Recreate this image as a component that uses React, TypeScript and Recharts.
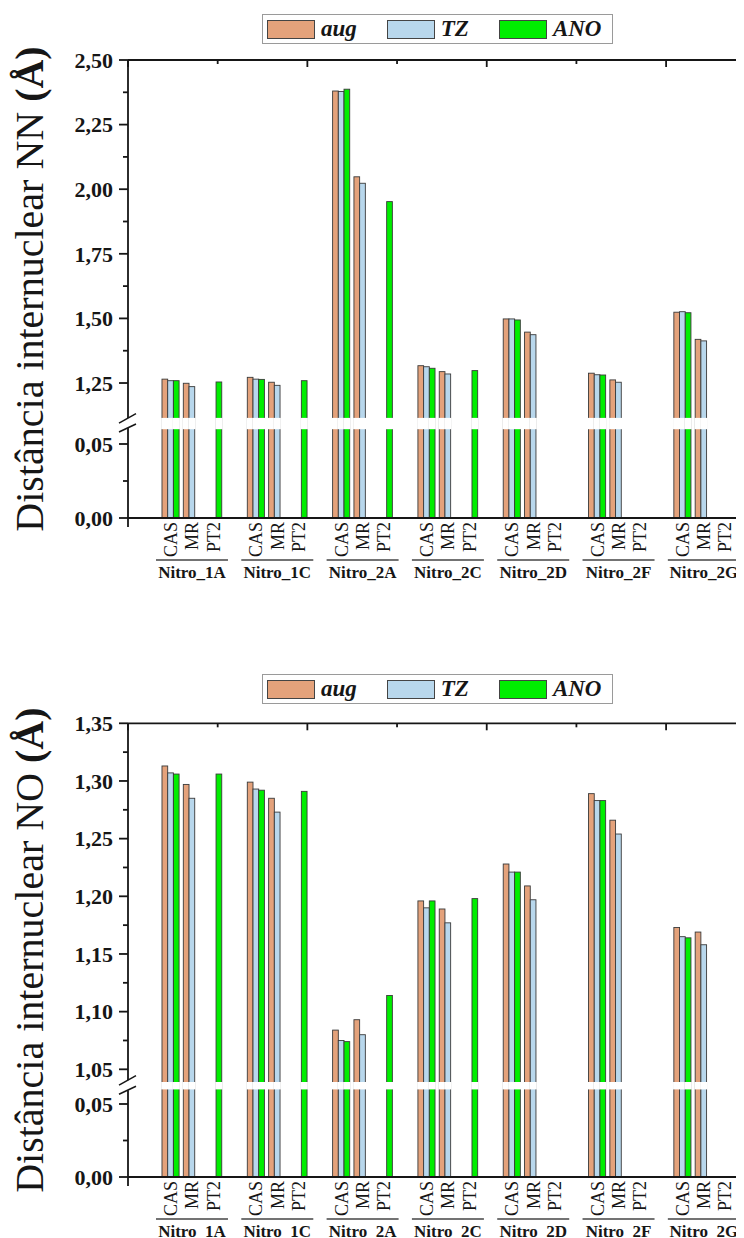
import React from 'react';
import { BarChart, Bar, XAxis, YAxis, Legend } from 'recharts';

// ---------- data ----------
const molecules = ['Nitro_1A', 'Nitro_1C', 'Nitro_2A', 'Nitro_2C', 'Nitro_2D', 'Nitro_2F', 'Nitro_2G'];
const methods = ['CAS', 'MR', 'PT2'];
const basisKeys = ['aug', 'TZ', 'ANO'];
const basisColors = ['#E4A27B', '#B8D7EC', '#00EE00'];

// NN distance (Å), per molecule: [CAS, MR, PT2]
const nnAug = [[1.265, 1.249, null], [1.272, 1.253, null], [2.380, 2.048, null], [1.317, 1.294, null], [1.498, 1.447, null], [1.288, 1.262, null], [1.524, 1.419, null]];
const nnTZ = [[1.259, 1.236, null], [1.265, 1.241, null], [2.378, 2.023, null], [1.313, 1.285, null], [1.498, 1.437, null], [1.282, 1.253, null], [1.526, 1.413, null]];
const nnANO = [[1.259, null, 1.254], [1.264, null, 1.259], [2.387, null, 1.952], [1.307, null, 1.298], [1.494, null, null], [1.281, null, null], [1.522, null, null]];

// NO distance (Å), per molecule: [CAS, MR, PT2]
const noAug = [[1.313, 1.297, null], [1.299, 1.285, null], [1.084, 1.093, null], [1.196, 1.189, null], [1.228, 1.209, null], [1.289, 1.266, null], [1.173, 1.169, null]];
const noTZ = [[1.307, 1.285, null], [1.293, 1.273, null], [1.075, 1.080, null], [1.190, 1.177, null], [1.221, 1.197, null], [1.283, 1.254, null], [1.165, 1.158, null]];
const noANO = [[1.306, null, 1.306], [1.292, null, 1.291], [1.074, null, 1.114], [1.196, null, 1.198], [1.221, null, null], [1.283, null, null], [1.164, null, null]];

// tick values
const nnMajorTicks = [0, 0.05, 1.25, 1.5, 1.75, 2.0, 2.25, 2.5];
const nnMinorTicks = [0.025, 1.375, 1.625, 1.875, 2.125, 2.375];
const noMajorTicks = [0, 0.05, 1.05, 1.1, 1.15, 1.2, 1.25, 1.3, 1.35];
const noMinorTicks = [0.025, 1.075, 1.125, 1.175, 1.225, 1.275, 1.325];
const rightTicks = [1, 2, 3, 4, 5, 6, 7, 8, 9];

// ---------- layout / style ----------
const FONT = '"Liberation Serif", "Times New Roman", serif';
const INK = '#161616';
const BAR_STROKE = '#3a3a3a';
const X_MAX = 29;
const SLOT_START = 2;
const GROUP_STRIDE = 4;

type AxisCfg = { lowMax: number; upMin: number; upMax: number; lowPx: number; gapPx: number; upPx: number };
const nnAxis: AxisCfg = { lowMax: 0.06, upMin: 1.115, upMax: 2.5, lowPx: 88.8, gapPx: 11.3, upPx: 357.9 };
const noAxis: AxisCfg = { lowMax: 0.06, upMin: 1.039, upMax: 1.35, lowPx: 87.6, gapPx: 7.4, upPx: 358.7 };

function toDisplay(v: number | null, a: AxisCfg) {
  if (v == null) return null;
  if (v <= a.lowMax) return (v / a.lowMax) * a.lowPx;
  return a.lowPx + a.gapPx + ((v - a.upMin) / (a.upMax - a.upMin)) * a.upPx;
}
function fromDisplay(d: number, a: AxisCfg) {
  if (d <= a.lowPx + 1e-9) return (d / a.lowPx) * a.lowMax;
  return a.upMin + ((d - a.lowPx - a.gapPx) / a.upPx) * (a.upMax - a.upMin);
}

function buildRows(series: (number | null)[][][], cfg: AxisCfg) {
  const rows: any[] = [];
  molecules.forEach((mol, g) => {
    methods.forEach((meth, m) => {
      const row: any = { x: SLOT_START + GROUP_STRIDE * g + m, molecule: mol, method: meth };
      basisKeys.forEach((k, i) => {
        row[k] = toDisplay(series[i][g][m], cfg);
      });
      rows.push(row);
    });
  });
  return rows;
}

const makeBarShape = (cfg: AxisCfg, key: string) => (props: any) => {
  const { x, y, width, height, fill, payload } = props;
  const disp = payload ? payload[key] : null;
  if (disp == null || !isFinite(height) || height <= 0) return <g />;
  const bottom = y + height;
  const k = height / disp;
  const gTop = bottom - (cfg.lowPx + cfg.gapPx) * k;
  const gBot = bottom - cfg.lowPx * k;
  return (
    <g>
      <rect x={x} y={y} width={width} height={height} fill={fill} stroke={BAR_STROKE} strokeWidth={0.9} />
      {y < gTop && <rect x={x - 0.8} y={gTop} width={width + 1.6} height={gBot - gTop} fill="#ffffff" />}
    </g>
  );
};

function LeftTick(props: any) {
  const { x, y, payload, cfg, breakD, majors } = props;
  const d = payload.value;
  if (Math.abs(d - breakD) < 1e-6) {
    return (
      <g>
        <rect x={x - 4} y={y - 5.5} width={8} height={10} fill="#ffffff" />
        <line x1={x - 9} y1={y - 0.5} x2={x + 8} y2={y - 10} stroke={INK} strokeWidth={1.5} />
        <line x1={x - 9} y1={y + 8.5} x2={x + 8} y2={y + 0.5} stroke={INK} strokeWidth={1.5} />
      </g>
    );
  }
  const v = fromDisplay(d, cfg);
  const major = majors.some((m: number) => Math.abs(m - v) < 1e-4);
  const len = major ? 9 : 5;
  return (
    <g>
      <line x1={x - len} x2={x} y1={y} y2={y} stroke={INK} strokeWidth={1.8} />
      {major && (
        <text x={x - 15} y={y} dy="0.35em" textAnchor="end" fontFamily={FONT} fontWeight="bold" fontSize={22} fill={INK}>
          {v.toFixed(2).replace('.', ',')}
        </text>
      )}
    </g>
  );
}

function RightTick(props: any) {
  const { x, y, payload } = props;
  const len = payload.value % 2 === 0 ? 8 : 5;
  return <line x1={x - len} x2={x} y1={y} y2={y} stroke={INK} strokeWidth={1.8} />;
}

function TopTick(props: any) {
  const { x, y, index } = props;
  const len = index % 2 === 0 ? 7 : 4;
  return <line x1={x} x2={x} y1={y} y2={y + len} stroke={INK} strokeWidth={1.8} />;
}

function CategoryTick(props: any) {
  const { x, y, payload, rows } = props;
  const v = payload.value;
  if (v === 0) return <line x1={x} x2={x} y1={y} y2={y + 9} stroke={INK} strokeWidth={1.8} />;
  const row = rows.find((r: any) => r.x === v);
  if (!row) return <g />;
  return (
    <g>
      <text transform={`translate(${x},${y + 4}) rotate(-90)`} textAnchor="end" dy="0.35em" fontFamily={FONT} fontSize={18} fill={INK}>
        {row.method}
      </text>
      {row.method === methods[1] && (
        <g>
          <line x1={x - 36} x2={x + 36} y1={y + 42} y2={y + 42} stroke="#444" strokeWidth={1.6} />
          <text x={x} y={y + 60} textAnchor="middle" fontFamily={FONT} fontWeight="bold" fontSize={17} fill={INK}>
            {row.molecule}
          </text>
        </g>
      )}
    </g>
  );
}

const renderLegend = (props: any) => {
  const items = [...(props.payload || [])].sort(
    (a: any, b: any) => basisKeys.indexOf(String(a.value)) - basisKeys.indexOf(String(b.value))
  );
  return (
    <div
      style={{
        display: 'flex', alignItems: 'center', border: '1px solid #9a9a9a', height: 30, width: 351,
        padding: '0 0 0 4px', background: '#fff', boxSizing: 'border-box',
      }}
    >
      {items.map((it: any, i: number) => (
        <div key={i} style={{ display: 'flex', alignItems: 'center', marginLeft: i ? 30 : 0 }}>
          <span style={{ display: 'inline-block', width: 48, height: 19, background: it.color, border: '1px solid #444', boxSizing: 'border-box' }} />
          <span style={{ marginLeft: 6, fontFamily: FONT, fontWeight: 'bold', fontStyle: 'italic', fontSize: 23, lineHeight: '28px', color: INK }}>
            {it.value}
          </span>
        </div>
      ))}
    </div>
  );
};

function Panel(props: any) {
  const { title, series, cfg, majors, minors, chartHeight, plotTop, legendTop } = props;
  const rows = buildRows(series, cfg);
  const total = cfg.lowPx + cfg.gapPx + cfg.upPx;
  const breakD = cfg.lowPx + cfg.gapPx / 2;
  const yTicks = [...majors, ...minors].map((v: number) => toDisplay(v, cfg) as number).concat([breakD]).sort((a, b) => a - b);
  const xTicks = [0, ...rows.map((r) => r.x)];
  const topTicks = Array.from({ length: 11 }, (_, i) => (i * X_MAX) / 10);
  const bottomAxisH = 80;
  const renderTitle = (p: any) => {
    const vb = p.viewBox || { x: 0, y: plotTop, width: 120, height: total };
    const cx = vb.x + 35;
    const cy = vb.y + vb.height / 2;
    return (
      <text x={cx} y={cy} transform={`rotate(-90, ${cx}, ${cy})`} textAnchor="middle" fontFamily={FONT} fontSize={40} fill={INK}>
        {title}{' '}
        <tspan fontWeight="bold">(Å)</tspan>
      </text>
    );
  };
  return (
    <BarChart
      width={760}
      height={chartHeight}
      data={rows}
      margin={{ top: plotTop - 1, right: 0, bottom: chartHeight - plotTop - total - bottomAxisH, left: 0 }}
      barGap={0}
      barSize={5.7}
    >
      <XAxis
        xAxisId="bottom" dataKey="x" type="number" domain={[0, X_MAX]} allowDataOverflow ticks={xTicks} interval={0}
        height={bottomAxisH} tickSize={0} tickMargin={0} tickLine={false}
        axisLine={{ stroke: INK, strokeWidth: 1.8 }}
        tick={(p: any) => <CategoryTick {...p} rows={rows} />}
      />
      <XAxis
        xAxisId="top" orientation="top" type="number" domain={[0, X_MAX]} allowDataOverflow ticks={topTicks} interval={0}
        height={1} tickSize={0} tickMargin={0} tickLine={false}
        axisLine={{ stroke: INK, strokeWidth: 1.8 }}
        tick={(p: any) => <TopTick {...p} />}
      />
      <YAxis
        yAxisId="left" type="number" domain={[0, total]} allowDataOverflow ticks={yTicks} interval={0}
        width={120} tickSize={0} tickMargin={0} tickLine={false}
        axisLine={{ stroke: INK, strokeWidth: 1.8 }}
        tick={(p: any) => <LeftTick {...p} cfg={cfg} breakD={breakD} majors={majors} />}
        label={renderTitle}
      />
      <YAxis
        yAxisId="right" orientation="right" type="number" domain={[0, 9.9]} allowDataOverflow ticks={rightTicks} interval={0}
        width={21.5} tickSize={0} tickMargin={0} tickLine={false}
        axisLine={{ stroke: INK, strokeWidth: 1.8 }}
        tick={(p: any) => <RightTick {...p} />}
      />
      <Legend verticalAlign="middle" align="center" layout="horizontal" wrapperStyle={{ left: 254, top: legendTop, width: 351, height: 30 }} content={renderLegend} />
      {basisKeys.map((k, i) => (
        <Bar
          key={k}
          xAxisId="bottom"
          yAxisId="left"
          dataKey={k}
          name={k}
          fill={basisColors[i]}
          stroke={BAR_STROKE}
          isAnimationActive={false}
          shape={makeBarShape(cfg, k)}
        />
      ))}
    </BarChart>
  );
}

export default function App() {
  return (
    <div style={{ width: 736, height: 1230, overflow: 'hidden', position: 'relative', fontFamily: FONT, background: '#fff' }}>
      <div style={{ position: 'absolute', left: 0, top: 0 }}>
        <Panel
          title="Distância internuclear NN"
          series={[nnAug, nnTZ, nnANO]}
          cfg={nnAxis}
          majors={nnMajorTicks}
          minors={nnMinorTicks}
          chartHeight={600}
          plotTop={52}
          legendTop={6}
        />
      </div>
      <div style={{ position: 'absolute', left: 0, top: 600 }}>
        <Panel
          title="Distância internuclear NO"
          series={[noAug, noTZ, noANO]}
          cfg={noAxis}
          majors={noMajorTicks}
          minors={noMinorTicks}
          chartHeight={650}
          plotTop={115.3}
          legendTop={66}
        />
      </div>
    </div>
  );
}
